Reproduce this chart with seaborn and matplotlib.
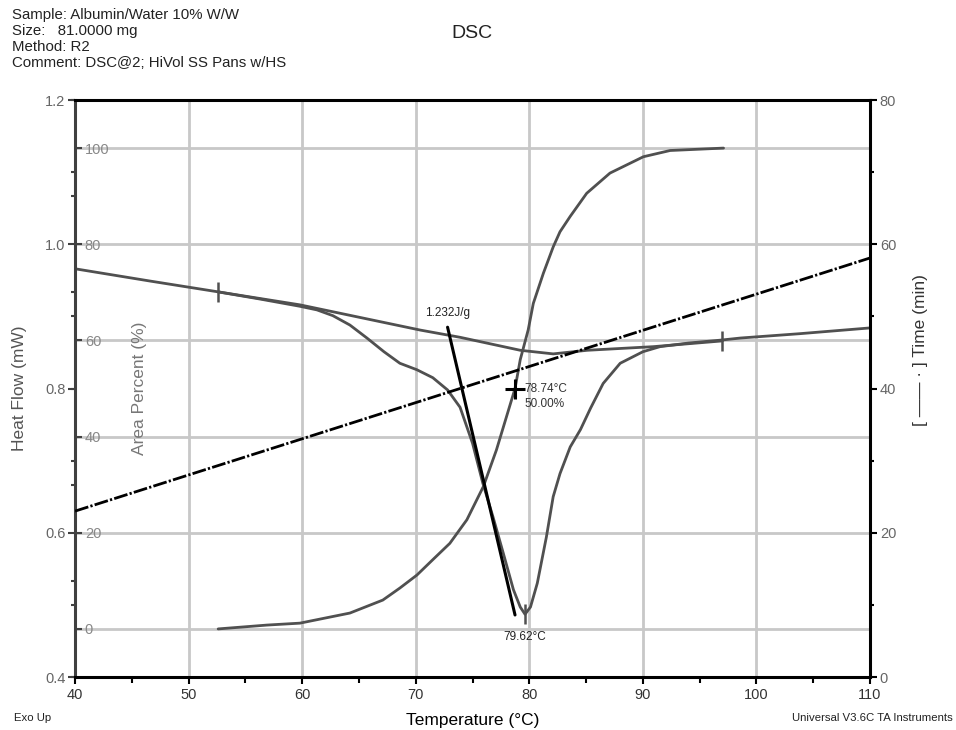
import matplotlib
matplotlib.use("Agg")
import matplotlib.pyplot as plt
from matplotlib.ticker import MultipleLocator, FormatStrFormatter
import seaborn as sns

# header text of the instrument report
header_lines = [
    "Sample: Albumin/Water 10% W/W",
    "Size:   81.0000 mg",
    "Method: R2",
    "Comment: DSC@2; HiVol SS Pans w/HS",
]

# heat flow signal (mW) vs temperature (C)
hf_temp = [40.0, 46.6, 52.6, 56.3, 59.8, 61.3, 62.7, 64.2, 65.7, 67.2, 68.6, 70.1, 71.5,
           72.8, 73.9, 75.0, 75.9, 76.8, 77.7, 78.6, 79.2, 79.62, 80.1, 80.7, 81.5,
           82.1, 82.7, 83.6, 84.5, 85.4, 86.5, 88.0, 90.0, 91.5, 94.0, 96.8, 98.6, 103.8, 110.0]
hf_value = [0.966, 0.949, 0.934, 0.924, 0.914, 0.909, 0.901, 0.888, 0.870, 0.851, 0.835, 0.826, 0.815,
            0.798, 0.774, 0.724, 0.669, 0.622, 0.572, 0.521, 0.497, 0.487, 0.497, 0.530, 0.594,
            0.650, 0.682, 0.719, 0.743, 0.773, 0.807, 0.835, 0.851, 0.858, 0.863, 0.867, 0.870, 0.876, 0.884]

# sigmoidal integration baseline
base_temp = [52.6, 59.8, 70.4, 73.9, 79.2, 82.1, 85.1, 90.9, 97.0]
base_value = [0.934, 0.916, 0.881, 0.871, 0.853, 0.848, 0.853, 0.858, 0.866]

# running integral (area percent)
area_temp = [52.6, 56.9, 59.8, 64.2, 67.1, 68.6, 70.1, 71.5, 73.0, 74.5, 75.95, 77.1, 78.74,
             79.2, 79.9, 80.35, 81.24, 82.11, 82.7, 83.6, 85.05, 87.1, 90.04, 92.4, 97.1]
area_value = [0.0, 0.8, 1.2, 3.3, 6.0, 8.5, 11.2, 14.4, 17.8, 22.7, 29.6, 37.2, 50.0,
              56.0, 62.2, 67.7, 74.0, 79.5, 82.6, 85.8, 90.6, 94.8, 98.2, 99.5, 100.0]

# time signal (min)
time_temp = [40.0, 110.0]
time_value = [23.0, 58.1]

# enthalpy marker line
enth_temp = [72.8, 78.74]
enth_value = [0.885, 0.486]
enth_label = "1.232J/g"

# integration limits and peak
limit_temp = [52.6, 97.0]
limit_value = [0.934, 0.866]
peak_temp = 79.62
peak_value = 0.487
half_temp = 78.74
half_area = 50.0

curve_color = "#505050"
grid_color = "#c8c8c8"

sns.set_style("ticks")
plt.rcParams["font.family"] = ["Liberation Sans", "DejaVu Sans"]

fig = plt.figure(figsize=(9.56, 7.30), dpi=100)
ax = fig.add_axes([0.0785, 0.0726, 0.8316, 0.7904])
ax_area = ax.twinx()
ax_time = ax.twinx()

# layering: area axis (with grid) at the back, time axis on top
ax_area.set_zorder(0)
ax.set_zorder(1)
ax_time.set_zorder(2)
ax.patch.set_visible(False)

# limits and locators
ax.set_xlim(40, 110)
ax.set_ylim(0.4, 1.2)
ax_area.set_ylim(-10, 110)
ax_time.set_ylim(0, 80)
ax.xaxis.set_major_locator(MultipleLocator(10))
ax.xaxis.set_minor_locator(MultipleLocator(5))
ax.yaxis.set_major_locator(MultipleLocator(0.2))
ax.yaxis.set_minor_locator(MultipleLocator(0.1))
ax.yaxis.set_major_formatter(FormatStrFormatter("%.1f"))
ax_area.set_yticks(range(0, 101, 20))
ax_area.yaxis.set_minor_locator(MultipleLocator(10))
ax_time.yaxis.set_major_locator(MultipleLocator(20))
ax_time.yaxis.set_minor_locator(MultipleLocator(10))

# grid lives on the back axis
ax_area.xaxis.set_visible(True)
ax_area.tick_params(axis="x", which="both", bottom=False, top=False,
                    labelbottom=False, labeltop=False)
ax_area.grid(True, which="major", color=grid_color, lw=2)
ax_area.set_axisbelow(True)
for s in ax_area.spines.values():
    s.set_visible(False)

# curves
sns.lineplot(x=area_temp, y=area_value, ax=ax_area, color=curve_color, lw=2)
sns.lineplot(x=hf_temp, y=hf_value, ax=ax, color=curve_color, lw=2)
sns.lineplot(x=base_temp, y=base_value, ax=ax, color=curve_color, lw=2)
sns.lineplot(x=enth_temp, y=enth_value, ax=ax, color="black", lw=2.2)
sns.lineplot(x=time_temp, y=time_value, ax=ax_time, color="black", lw=2,
             linestyle=(0, (5, 0.8, 0.8, 0.8)))

# markers
ax.plot(limit_temp, limit_value, ls="none", marker="|", ms=14, mew=1.8, color=curve_color)
ax.plot([peak_temp], [peak_value], ls="none", marker="|", ms=14, mew=1.8, color=curve_color)
ax_area.plot([half_temp], [half_area], ls="none", marker="+", ms=14, mew=2.2, color="black")

# annotations
ax.annotate(enth_label, xy=(enth_temp[0], enth_value[0]), xytext=(0, 6),
            textcoords="offset points", ha="center", va="bottom", fontsize=8.5, color="#222222")
ax.annotate(f"{peak_temp:.2f}°C", xy=(peak_temp, peak_value), xytext=(0, -12),
            textcoords="offset points", ha="center", va="top", fontsize=8.5, color="#222222")
ax_area.annotate(f"{half_temp:.2f}°C\n{half_area:.2f}%", xy=(half_temp, half_area),
                 xytext=(7, 4), textcoords="offset points", ha="left", va="top",
                 fontsize=8.5, color="#333333", linespacing=1.3)

# spines
for name in ["top", "bottom"]:
    ax.spines[name].set_color("black")
    ax.spines[name].set_linewidth(2.2)
ax.spines["left"].set_color("#404040")
ax.spines["left"].set_linewidth(2.2)
ax.spines["right"].set_visible(False)
for name in ["top", "bottom", "left"]:
    ax_time.spines[name].set_visible(False)
ax_time.spines["right"].set_color("black")
ax_time.spines["right"].set_linewidth(2.2)

# ticks
ax.tick_params(axis="x", which="major", direction="out", length=5, width=1.5,
               color="black", labelsize=10.5, labelcolor="#333333", pad=3)
ax.tick_params(axis="x", which="minor", direction="out", length=4, width=1.5, color="black")
ax.tick_params(axis="y", which="major", direction="out", length=5, width=1.5,
               color="#404040", labelsize=10.5, labelcolor="#666666", pad=2)
ax.tick_params(axis="y", which="minor", direction="out", length=3, width=1.5, color="#404040")

ax_area.yaxis.tick_left()
ax_area.tick_params(axis="y", which="major", direction="in", length=5, width=1.5,
                    color="#404040", labelsize=10.5, labelcolor="#888888", pad=-7,
                    left=True, right=False, labelleft=True, labelright=False)
ax_area.tick_params(axis="y", which="minor", direction="out", length=3, width=1.5,
                    color="#404040", left=True, right=False)
for t in ax_area.get_yticklabels():
    t.set_horizontalalignment("left")

ax_time.tick_params(axis="y", which="major", direction="out", length=5, width=1.5,
                    color="black", labelsize=10.5, labelcolor="#666666", pad=2)
ax_time.tick_params(axis="y", which="minor", direction="out", length=3, width=1.5, color="black")

# axis labels
ax.set_xlabel("Temperature (°C)", fontsize=12.5, color="black")
ax.xaxis.set_label_coords(0.5, -0.062)
ax.set_ylabel("Heat Flow (mW)", fontsize=12.5, color="#555555")
ax.yaxis.set_label_coords(-0.060, 0.5)
ax_area.yaxis.set_label_position("left")
ax_area.set_ylabel("Area Percent (%)", fontsize=12.5, color="#777777")
ax_area.yaxis.set_label_coords(0.091, 0.5)
ax_time.set_ylabel("[ —— · ] Time (min)", fontsize=12.5, color="#333333")
ax_time.yaxis.set_label_coords(1.054, 0.567)

# header / footer text
for i, line in enumerate(header_lines):
    fig.text(12 / 956, 1 - (15 + 16 * i) / 730, line, ha="left", va="center",
             fontsize=10.8, color="#222222")
fig.text(0.494, 1 - 34 / 730, "DSC", ha="center", va="center", fontsize=14, color="#222222")
fig.text(14 / 956, 1 - 718 / 730, "Exo Up", ha="left", va="center", fontsize=8.2, color="#222222")
fig.text(953 / 956, 1 - 718 / 730, "Universal V3.6C TA Instruments", ha="right",
         va="center", fontsize=8.2, color="#222222")

fig.savefig("out.png", dpi=100, facecolor="white")
